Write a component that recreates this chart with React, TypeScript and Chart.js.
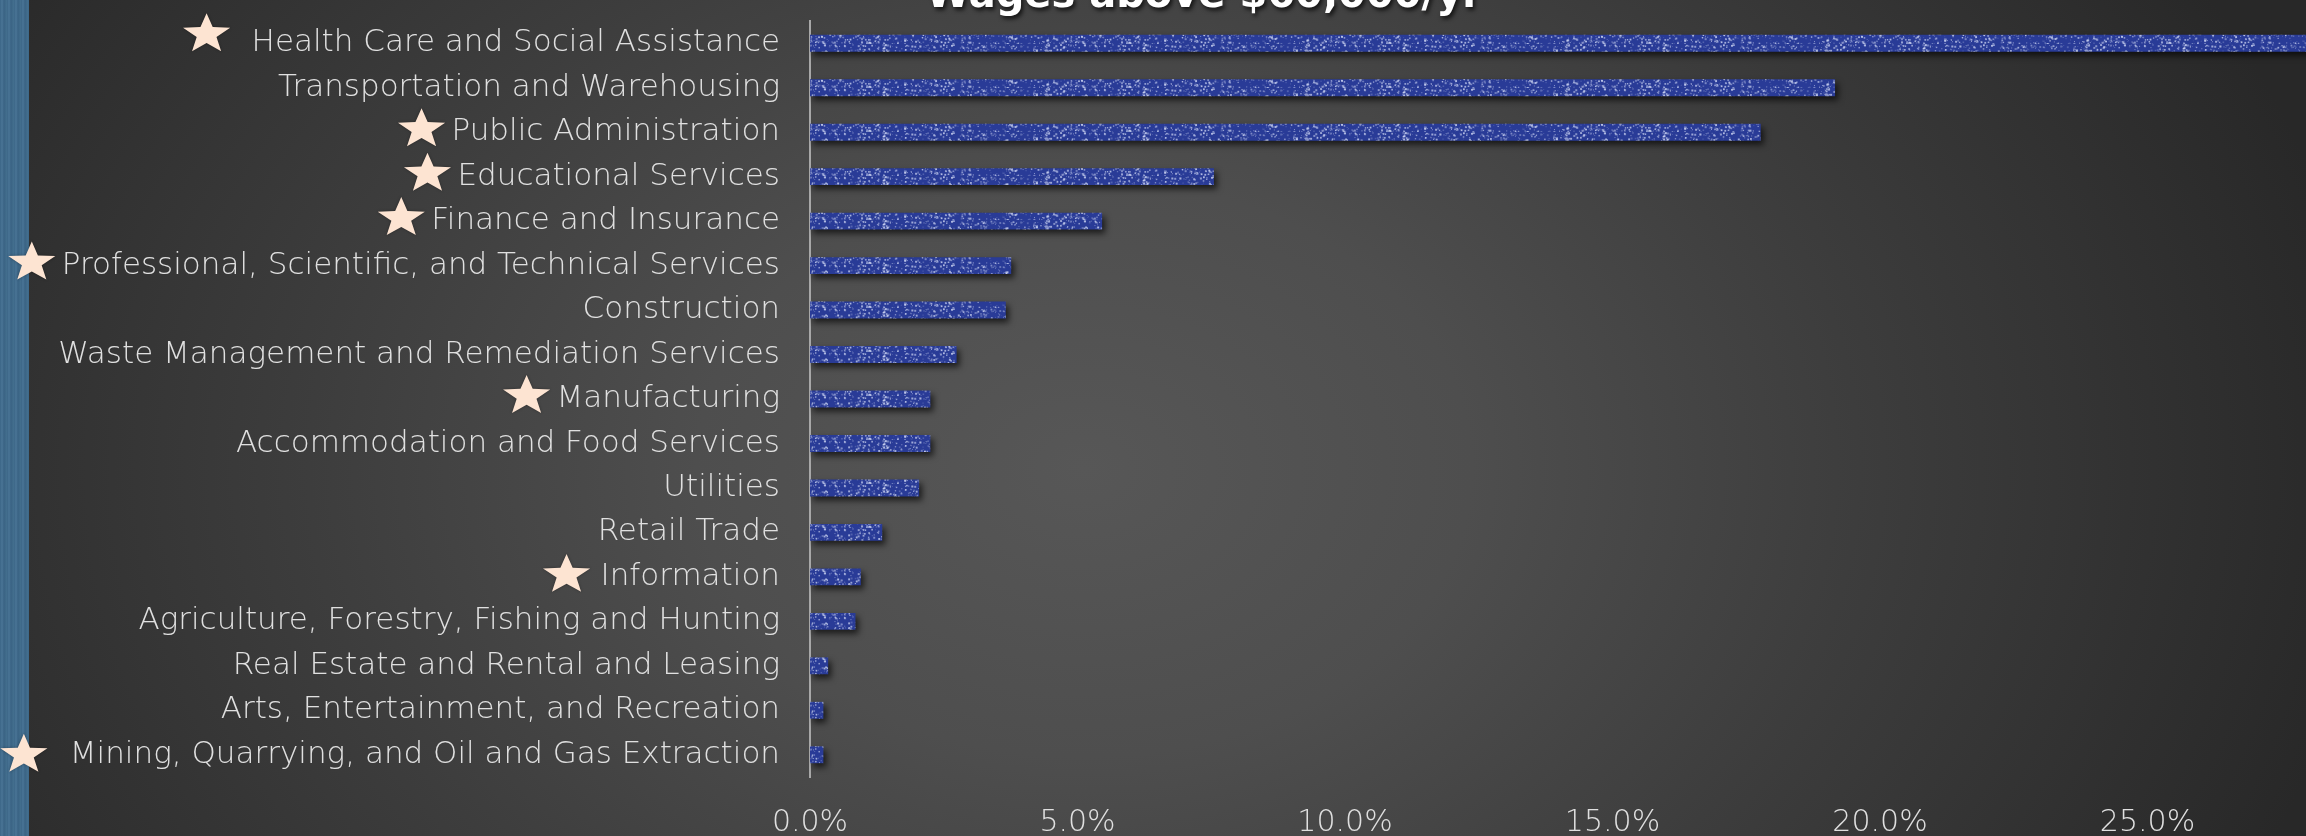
import React, { useEffect, useRef } from "react";
import { Chart, registerables } from "chart.js";

Chart.register(...registerables);

// ---- data ----
const categories: string[] = [
  "Health Care and Social Assistance",
  "Transportation and Warehousing",
  "Public Administration",
  "Educational Services",
  "Finance and Insurance",
  "Professional, Scientific, and Technical Services",
  "Construction",
  "Waste Management and Remediation Services",
  "Manufacturing",
  "Accommodation and Food Services",
  "Utilities",
  "Retail Trade",
  "Information",
  "Agriculture, Forestry, Fishing and Hunting",
  "Real Estate and Rental and Leasing",
  "Arts, Entertainment, and Recreation",
  "Mining, Quarrying, and Oil and Gas Extraction",
];

const shareValues: number[] = [
  28.6, 19.16, 17.77, 7.55, 5.46, 3.76, 3.66, 2.74, 2.25, 2.25, 2.04, 1.35,
  0.95, 0.85, 0.34, 0.25, 0.25,
];

const starred: boolean[] = [
  true, false, true, true, true, true, false, false, true, false, false,
  false, true, false, false, false, true,
];

const axisMin = 0;
const axisMax = 30;
const axisStep = 5;
const titleText = "Wages above $60,000/yr";

// ---- styling ----
const FONT = "'DejaVu Sans', 'Open Sans', sans-serif";
const TEXT_COLOR = "#e0e0e0";
const STAR_COLOR = "#fde4d2";
const starNudge: Record<string, { gap?: number; lift?: number }> = {
  "Health Care and Social Assistance": { gap: 45, lift: 11 },
  "Mining, Quarrying, and Oil and Gas Extraction": { gap: 46, lift: 2 },
  Information: { gap: 34, lift: 4 },
};

function makeBarPattern(ctx: CanvasRenderingContext2D): CanvasPattern | string {
  const c = document.createElement("canvas");
  c.width = 260;
  c.height = 44;
  const g = c.getContext("2d");
  if (!g) return "#2b3d98";
  g.fillStyle = "#293b97";
  g.fillRect(0, 0, c.width, c.height);
  let s = 987654;
  const rnd = () => {
    s = (s * 1103515245 + 12345) & 0x7fffffff;
    return s / 0x7fffffff;
  };
  for (let k = 0; k < 1500; k++) {
    const x = rnd() * c.width;
    const y = rnd() * c.height;
    const w = rnd() * 1.6 + 0.5;
    const a = 0.2 + rnd() * 0.6;
    g.fillStyle = `rgba(215,222,248,${a.toFixed(2)})`;
    g.fillRect(x, y, w, w);
  }
  return ctx.createPattern(c, "repeat") || "#2b3d98";
}

function drawStar(ctx: CanvasRenderingContext2D, cx: number, cy: number, R: number, sx: number) {
  ctx.save();
  ctx.translate(cx, cy);
  ctx.scale(sx, 1);
  ctx.beginPath();
  for (let k = 0; k < 10; k++) {
    const r = k % 2 === 0 ? R : R * 0.42;
    const a = -Math.PI / 2 + (k * Math.PI) / 5;
    const px = r * Math.cos(a);
    const py = r * Math.sin(a);
    if (k === 0) ctx.moveTo(px, py);
    else ctx.lineTo(px, py);
  }
  ctx.closePath();
  ctx.fillStyle = STAR_COLOR;
  ctx.shadowColor = "rgba(0,0,0,0.35)";
  ctx.shadowBlur = 3;
  ctx.fill();
  ctx.restore();
}

const decorPlugin = {
  id: "decor",
  beforeDatasetsDraw(chart: any) {
    const ctx = chart.ctx;
    ctx.save();
    ctx.shadowColor = "rgba(0,0,0,0.65)";
    ctx.shadowBlur = 6;
    ctx.shadowOffsetX = 3;
    ctx.shadowOffsetY = 4;
  },
  afterDatasetsDraw(chart: any) {
    chart.ctx.restore();
  },
  afterDraw(chart: any) {
    const ctx: CanvasRenderingContext2D = chart.ctx;
    const yScale = chart.scales.y;
    const area = chart.chartArea;
    const tickOpts = chart.options.scales.y.ticks;
    const pad = tickOpts.padding;
    ctx.save();
    ctx.font = `${tickOpts.font.weight} ${tickOpts.font.size}px ${tickOpts.font.family}`;
    categories.forEach((label, i) => {
      if (!starred[i]) return;
      const y = yScale.getPixelForValue(i);
      const textRight = area.left - pad;
      const w = ctx.measureText(label).width;
      const nudge = starNudge[label] || {};
      const gap = nudge.gap ?? 30;
      const lift = nudge.lift ?? 5;
      drawStar(ctx, textRight - w - gap, y - lift + 2, 21, 1.18);
    });
    ctx.restore();

    // title (cut off at the top of the picture)
    ctx.save();
    ctx.font = `bold 40px ${FONT}`;
    ctx.textAlign = "center";
    ctx.textBaseline = "alphabetic";
    ctx.fillStyle = "#ffffff";
    ctx.shadowColor = "rgba(0,0,0,0.7)";
    ctx.shadowBlur = 4;
    ctx.shadowOffsetX = 2;
    ctx.shadowOffsetY = 3;
    ctx.fillText(titleText, 1204, 7);
    ctx.restore();
  },
};

export default function App() {
  const canvasRef = useRef<HTMLCanvasElement | null>(null);

  useEffect(() => {
    document.body.style.margin = "0";
    const canvas = canvasRef.current;
    if (!canvas) return;
    const ctx = canvas.getContext("2d");
    if (!ctx) return;
    const pattern = makeBarPattern(ctx);

    const chart = new Chart(canvas, {
      type: "bar",
      data: {
        labels: categories,
        datasets: [
          {
            data: shareValues,
            backgroundColor: pattern as any,
            borderWidth: 0,
            barPercentage: 0.38,
            categoryPercentage: 1,
          },
        ],
      },
      options: {
        responsive: false,
        animation: false,
        indexAxis: "y",
        layout: { padding: { top: 21, right: 40, left: 0, bottom: 0 } },
        plugins: {
          legend: { display: false },
          tooltip: { enabled: false },
          title: { display: false },
        },
        scales: {
          x: {
            min: axisMin,
            max: axisMax,
            ticks: {
              stepSize: axisStep,
              callback: (v: any) => Number(v).toFixed(1) + "%",
              color: TEXT_COLOR,
              font: { family: FONT, size: 30, weight: 200 as any },
              padding: 28,
              maxRotation: 0,
            },
            grid: { display: false, drawTicks: false },
            border: { display: false },
            afterFit: (s: any) => {
              s.height = 59;
              s.paddingLeft = 0;
              s.paddingRight = 0;
            },
          },
          y: {
            ticks: {
              color: TEXT_COLOR,
              font: { family: FONT, size: 31, weight: 200 as any },
              padding: 30,
              autoSkip: false,
            },
            grid: { display: false, drawTicks: false },
            border: { display: true, color: "#a8a8a8", width: 2 },
            afterFit: (s: any) => {
              s.width = 810;
              s.paddingTop = 0;
              s.paddingBottom = 0;
            },
          },
        },
      },
      plugins: [decorPlugin],
    });
    return () => chart.destroy();
  }, []);

  return (
    <div
      style={{
        position: "fixed",
        left: 0,
        top: 0,
        width: 2306,
        height: 836,
        overflow: "hidden",
        background:
          "radial-gradient(ellipse 56% 115% at 47% 56%, #575757 0%, #4e4e4e 30%, #3d3d3d 60%, #282828 100%)",
      }}
    >
      <div
        style={{
          position: "absolute",
          left: 0,
          top: 0,
          width: 29,
          height: 836,
          background:
            "repeating-linear-gradient(90deg, #3b6586 0px, #4a7596 2px, #3a6384 4px, #44708f 7px), #3f6a8b",
        }}
      />
      <canvas
        ref={canvasRef}
        width={2455}
        height={836}
        style={{ position: "absolute", left: 0, top: 0, width: 2455, height: 836 }}
      />
    </div>
  );
}
